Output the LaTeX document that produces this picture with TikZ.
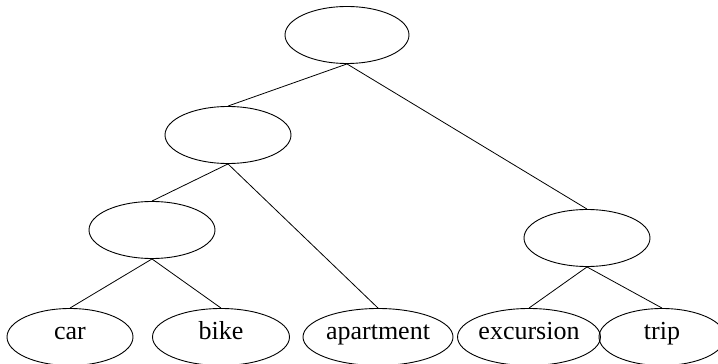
\documentclass[tikz,border=0pt]{standalone}
\usepackage{fontspec}
\setmainfont{Liberation Serif}
\usetikzlibrary{shapes.geometric}
\begin{document}
\begin{tikzpicture}[x=1pt,y=1pt,
  nd/.style={ellipse,draw,line width=0.9pt,inner sep=0pt,minimum height=57pt,text height=0.72em,text depth=0.12em,font=\fontsize{26}{30}\selectfont},
  ed/.style={line width=0.8pt}]
\useasboundingbox (0,0) rectangle (718,364);
\node[nd,minimum width=124pt] (root) at (347,329) {};
\node[nd,minimum width=126pt] (l2) at (228,229) {};
\node[nd,minimum width=126pt] (l3) at (152,134) {};
\node[nd,minimum width=126pt] (r) at (587,126) {};
\node[nd,minimum width=126pt] (car) at (70,27) {car};
\node[nd,minimum width=137pt] (bike) at (221,27) {bike};
\node[nd,minimum width=150pt] (apt) at (378,27) {apartment};
\node[nd,minimum width=127pt] (exc) at (529,27) {excursion};
\node[nd,minimum width=126pt] (trip) at (662,27) {trip};
\draw[ed] (root.south) -- (l2.north);
\draw[ed] (root.south) -- (r.north);
\draw[ed] (l2.south) -- (l3.north);
\draw[ed] (l2.south) -- (apt.north);
\draw[ed] (l3.south) -- (car.north);
\draw[ed] (l3.south) -- (bike.north);
\draw[ed] (r.south) -- (exc.north);
\draw[ed] (r.south) -- (trip.north);
\end{tikzpicture}
\end{document}
